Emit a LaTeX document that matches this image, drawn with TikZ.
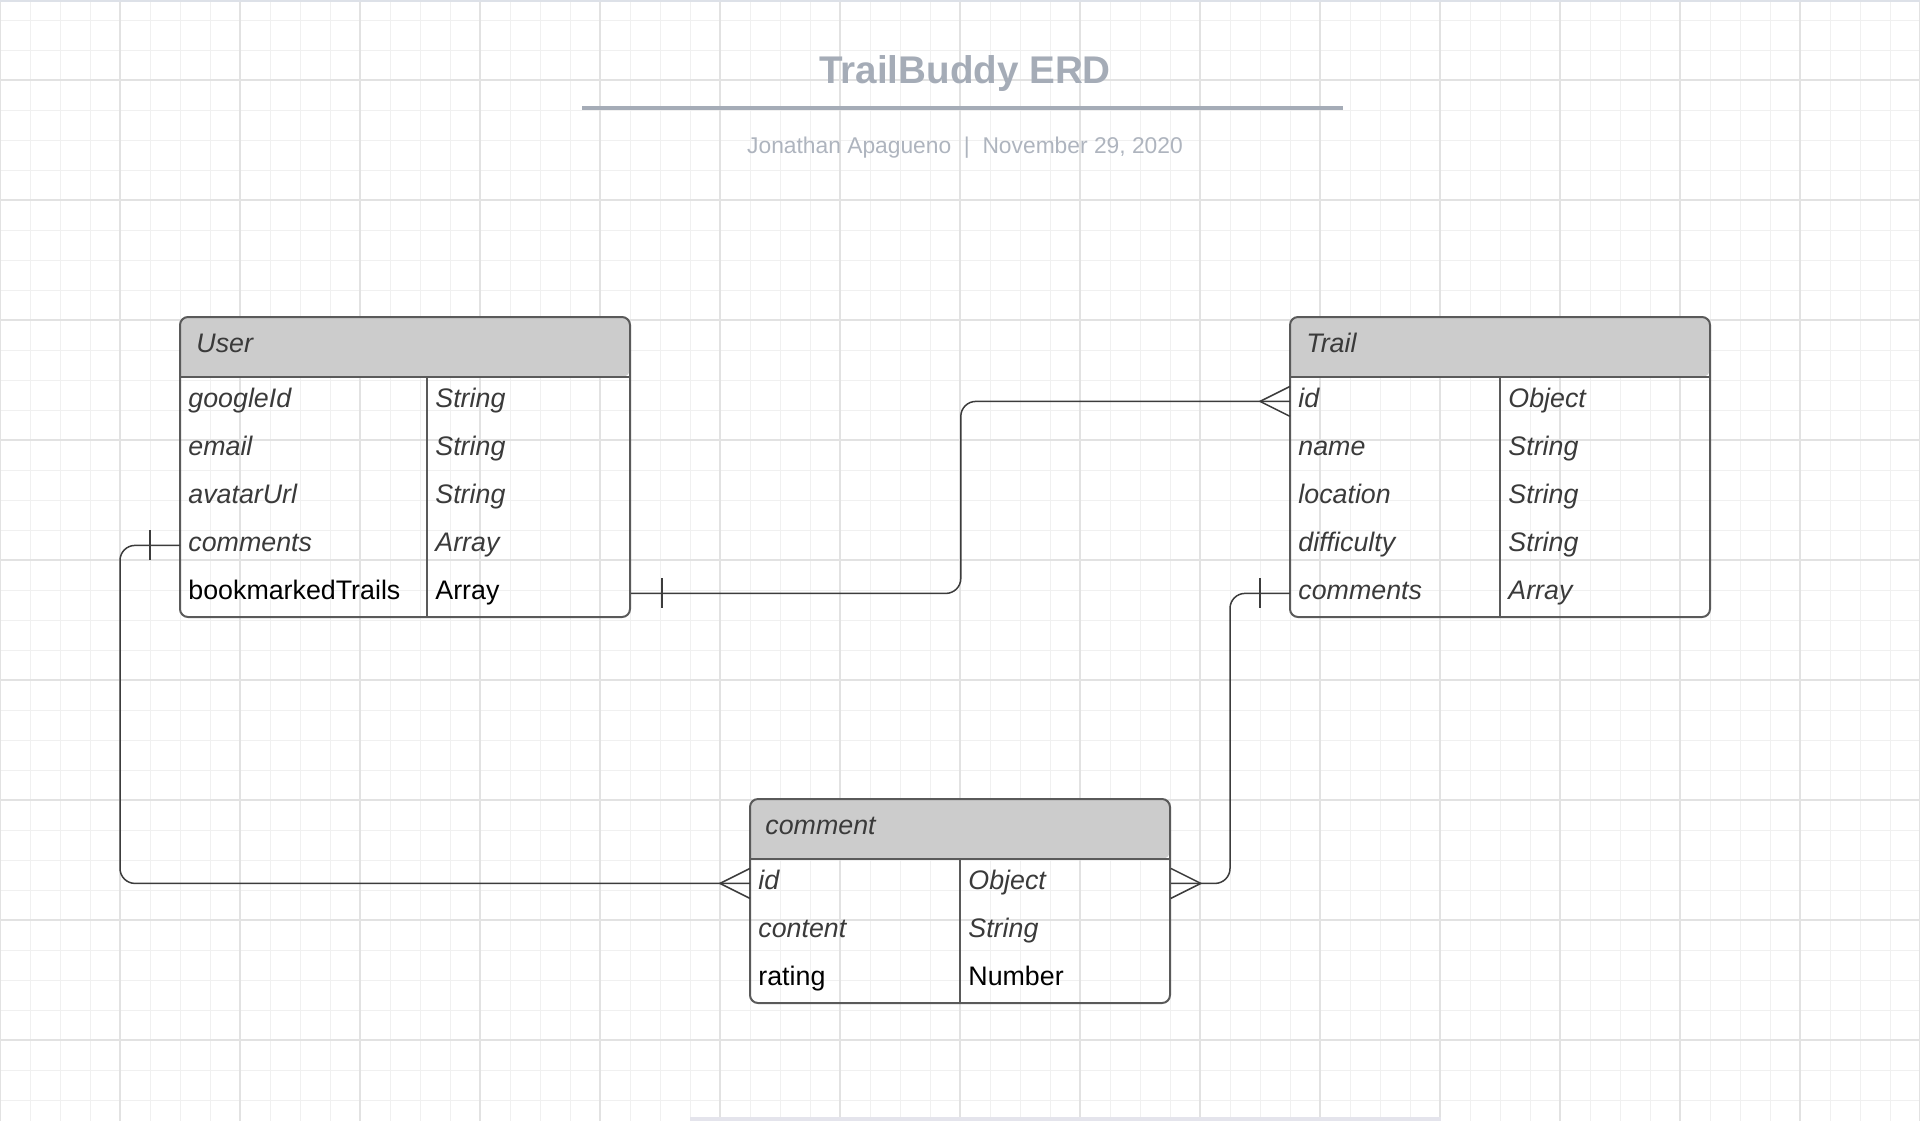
\documentclass[tikz,border=0pt]{standalone}
\usepackage{fontspec}
\setmainfont{Liberation Sans}

\definecolor{gridminor}{HTML}{F0F0F0}
\definecolor{gridmajor}{HTML}{E2E2E2}
\definecolor{titlegray}{HTML}{A5ACB7}
\definecolor{subgray}{HTML}{AEB4BE}
\definecolor{hdrgray}{HTML}{CCCCCC}
\definecolor{framegray}{HTML}{5A5A5A}
\definecolor{fieldgray}{HTML}{3A3A3A}
\definecolor{linkgray}{HTML}{3C3C3C}
\definecolor{edgegray}{HTML}{DDE1E8}
\definecolor{bargray}{HTML}{E4E4EC}

\newcommand{\fieldfont}{\fontsize{13.4}{16}\selectfont}

\begin{document}
\begin{tikzpicture}[x=0.5pt, y=-0.5pt,
  minorgrid/.style={draw=gridminor, line width=0.5pt},
  majorgrid/.style={draw=gridmajor, line width=0.6pt},
  tblframe/.style={draw=framegray, line width=1pt, rounded corners=4pt},
  tblline/.style={draw=framegray, line width=1pt},
  hdr/.style={anchor=base west, inner sep=0pt, font=\fieldfont\itshape, text=fieldgray},
  cell/.style={anchor=north west, text width=#1, minimum height=24pt,
    inner xsep=4pt, inner ysep=0pt, text height=8pt, text depth=2pt,
    align=left, font=\fieldfont\itshape, text=fieldgray},
  upright/.style={font=\fieldfont\upshape, text=black},
  link/.style={draw=linkgray, line width=0.75pt},
]
  \useasboundingbox (0,0) rectangle (1920,1121);

  % background grid
  \foreach \gx in {0,30,...,1920} \draw[minorgrid] (\gx,0) -- (\gx,1121);
  \foreach \gy in {20,50,...,1110} \draw[minorgrid] (0,\gy) -- (1920,\gy);
  \foreach \gx in {0,120,...,1920} \draw[majorgrid] (\gx,0) -- (\gx,1121);
  \foreach \gy in {80,200,...,1040} \draw[majorgrid] (0,\gy) -- (1920,\gy);
  \draw[edgegray, line width=1pt] (0,1) -- (1920,1);
  \fill[bargray] (690,1117) rectangle (1441,1121);

  \node[anchor=base, font=\fontsize{19.3}{23}\selectfont\bfseries, text=titlegray] (title) at (965,83) {TrailBuddy ERD};
  \draw[titlegray, line width=1.7pt] (582,108) -- (1343,108);
  \node[anchor=base, font=\fontsize{11.4}{14}\selectfont, text=subgray] (byline) at (965,153) {Jonathan Apagueno~~|~~November 29, 2020};

  % User
  \fill[hdrgray] (180,377) [rounded corners=4pt] |- (405,317) -| (630,377) [sharp corners] -- cycle;
  \draw[tblframe] (180,317) rectangle (630,617);
  \draw[tblline] (180,377) -- (630,377) (427,377) -- (427,617);
  \node[hdr] (user) at (196,352) {User};
  \node[cell=115.5pt] (un1) at (180,377) {googleId};
  \node[cell=93.5pt] (ut1) at (427,377) {String};
  \node[cell=115.5pt] (un2) at (180,425) {email};
  \node[cell=93.5pt] (ut2) at (427,425) {String};
  \node[cell=115.5pt] (un3) at (180,473) {avatarUrl};
  \node[cell=93.5pt] (ut3) at (427,473) {String};
  \node[cell=115.5pt] (un4) at (180,521) {comments};
  \node[cell=93.5pt] (ut4) at (427,521) {Array};
  \node[cell=115.5pt, upright] (un5) at (180,569) {bookmarkedTrails};
  \node[cell=93.5pt, upright] (ut5) at (427,569) {Array};

  % Trail
  \fill[hdrgray] (1290,377) [rounded corners=4pt] |- (1500,317) -| (1710,377) [sharp corners] -- cycle;
  \draw[tblframe] (1290,317) rectangle (1710,617);
  \draw[tblline] (1290,377) -- (1710,377) (1500,377) -- (1500,617);
  \node[hdr] (trail) at (1306,352) {Trail};
  \node[cell=97pt] (tn1) at (1290,377) {id};
  \node[cell=97pt] (tt1) at (1500,377) {Object};
  \node[cell=97pt] (tn2) at (1290,425) {name};
  \node[cell=97pt] (tt2) at (1500,425) {String};
  \node[cell=97pt] (tn3) at (1290,473) {location};
  \node[cell=97pt] (tt3) at (1500,473) {String};
  \node[cell=97pt] (tn4) at (1290,521) {difficulty};
  \node[cell=97pt] (tt4) at (1500,521) {String};
  \node[cell=97pt] (tn5) at (1290,569) {comments};
  \node[cell=97pt] (tt5) at (1500,569) {Array};

  % comment
  \fill[hdrgray] (750,859) [rounded corners=4pt] |- (960,799) -| (1170,859) [sharp corners] -- cycle;
  \draw[tblframe] (750,799) rectangle (1170,1003);
  \draw[tblline] (750,859) -- (1170,859) (960,859) -- (960,1003);
  \node[hdr] (comment) at (765,834) {comment};
  \node[cell=97pt] (cn1) at (750,859) {id};
  \node[cell=97pt] (ct1) at (960,859) {Object};
  \node[cell=97pt] (cn2) at (750,907) {content};
  \node[cell=97pt] (ct2) at (960,907) {String};
  \node[cell=97pt, upright] (cn3) at (750,955) {rating};
  \node[cell=97pt, upright] (ct3) at (960,955) {Number};

  % relations
  \draw[link, rounded corners=7.5pt] (ut5.east) -- ++(330,0) |- (tn1.west);
  \draw[link] ([xshift=15.5pt]ut5.east) ++(0,-15) -- ++(0,30);
  \draw[link] ([yshift=7.5pt]tn1.west) -- ([xshift=-15pt]tn1.west) -- ([yshift=-7.5pt]tn1.west);

  \draw[link, rounded corners=7.5pt] (un4.west) -- ++(-60,0) |- (cn1.west);
  \draw[link] ([xshift=-15pt]un4.west) ++(0,-15) -- ++(0,30);
  \draw[link] ([yshift=7.5pt]cn1.west) -- ([xshift=-15pt]cn1.west) -- ([yshift=-7.5pt]cn1.west);

  \draw[link, rounded corners=7.5pt] (tn5.west) -- ++(-60,0) |- (ct1.east);
  \draw[link] ([xshift=-15pt]tn5.west) ++(0,-15) -- ++(0,30);
  \draw[link] ([yshift=7.5pt]ct1.east) -- ([xshift=15pt]ct1.east) -- ([yshift=-7.5pt]ct1.east);
\end{tikzpicture}
\end{document}
